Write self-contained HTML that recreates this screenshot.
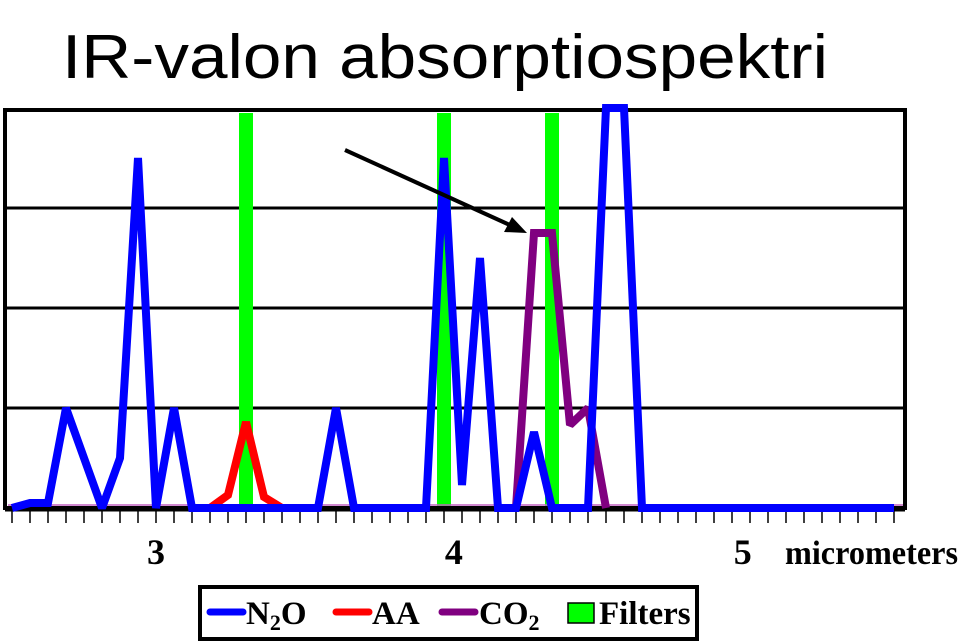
<!DOCTYPE html>
<html><head><meta charset="utf-8"><style>
html,body{margin:0;padding:0;background:#fff;}
svg{display:block;}
</style></head><body>
<svg id="chart" width="960" height="642" viewBox="0 0 960 642">
<text x="62" y="78" font-family="Liberation Sans, sans-serif" font-size="62" textLength="766" lengthAdjust="spacingAndGlyphs" fill="#000">IR-valon absorptiospektri</text>
<g id="plot"></g>
<g id="legend">
  <rect x="200" y="587" width="497" height="52" fill="#fff" stroke="#000" stroke-width="4"/>
  <line x1="210" y1="612" x2="243" y2="612" stroke="#0000ff" stroke-width="7" stroke-linecap="round"/>
  <text x="246" y="624" font-family="Liberation Serif, serif" font-weight="bold" font-size="33">N<tspan font-size="22" dy="6">2</tspan><tspan dy="-6">O</tspan></text>
  <line x1="336" y1="612" x2="369" y2="612" stroke="#ff0000" stroke-width="7" stroke-linecap="round"/>
  <text x="372" y="624" font-family="Liberation Serif, serif" font-weight="bold" font-size="33">AA</text>
  <line x1="442" y1="612" x2="475" y2="612" stroke="#800080" stroke-width="7" stroke-linecap="round"/>
  <text x="479" y="624" font-family="Liberation Serif, serif" font-weight="bold" font-size="33">CO<tspan font-size="22" dy="6">2</tspan></text>
  <rect x="568" y="603" width="26" height="20" fill="#00ff00" stroke="#000" stroke-width="1.5"/>
  <text x="599" y="624" font-family="Liberation Serif, serif" font-weight="bold" font-size="33">Filters</text>
</g>
</svg>
<script>
const n2o = [0,0.05,0.05,1,0.5,0,0.5,3.5,0,1,0,0,0,0,0,0,0,0,1,0,0,0,0,0,3.5,0.23,2.5,0,0,0.76,0,0,0,4,4,0,0,0,0,0,0,0,0,0,0,0,0,0,0,0];
const aa = [0,0,0,0,0,0,0,0,0,0,0,0,0.13,0.86,0.11,0,0,0,0,0,0,0,0,0,0,0,0,0,0,0,0,0,0,0,0,0,0,0,0,0,0,0,0,0,0,0,0,0,0,0];
const co2 = [0,0,0,0,0,0,0,0,0,0,0,0,0,0,0,0,0,0,0,0,0,0,0,0,0,0,0,0,0,2.75,2.75,0.83,1.0,0,0,0,0,0,0,0,0,0,0,0,0,0,0,0,0,0];
const filters = [13,24,30];
const xTickLabels = ["3","4","5"];
const xTickLabelPos = [8.0,24.55,40.6];
const yGrid = [1,2,3];

const NS = "http://www.w3.org/2000/svg";
const plot = document.getElementById('plot');
const X = i => 12 + i * 18;
const Y = v => 508 - v * 100;
function mk(tag, attrs){const e=document.createElementNS(NS,tag);for(const k in attrs)e.setAttribute(k,attrs[k]);plot.appendChild(e);return e;}

yGrid.forEach(v=>{
  const g=mk('line',{x1:5,x2:905,y1:Y(v),y2:Y(v),stroke:'#000','stroke-width':3});
  
  
});
filters.forEach(i=>{
  const r=mk('rect',{x:X(i)-7,y:113,width:14,height:393,fill:'#00ff00'});
  
  
});
const fr=mk('rect',{x:5,y:110,width:900,height:398,fill:'none',stroke:'#000','stroke-width':4});


const base=mk('line',{x1:8,x2:903,y1:505,y2:505,stroke:'#c060c0','stroke-width':1.5});


const ax=mk('line',{x1:5,x2:905,y1:509,y2:509,stroke:'#000','stroke-width':5});


for(let i=0;i<n2o.length;i++){
  const t=mk('line',{x1:X(i),x2:X(i),y1:510,y2:523,stroke:'#000','stroke-width':1.5});
  
  
}
xTickLabels.forEach((l,k)=>{
  const t=mk('text',{x:X(xTickLabelPos[k]),y:564,'text-anchor':'middle','font-family':'Liberation Serif, serif','font-weight':'bold','font-size':36});
  t.textContent=l;
  
  
});
const ut=mk('text',{x:785,y:564,'font-family':'Liberation Serif, serif','font-weight':'bold','font-size':34,textLength:173,lengthAdjust:'spacingAndGlyphs'});
ut.textContent='micrometers';



function series(arr,color,name,skipZero){
  let d='';
  let pen=false;
  for(let i=0;i<arr.length;i++){
    const active = !skipZero || arr[i]!==0 || (i>0&&arr[i-1]!==0) || (i<arr.length-1&&arr[i+1]!==0);
    if(active){d+=(pen?'L':'M')+X(i)+','+Y(arr[i])+' ';pen=true;} else pen=false;
  }
  const p=mk('path',{d:d,fill:'none',stroke:color,'stroke-width':8,'stroke-linejoin':'miter','stroke-miterlimit':2});
  
  
}
series(aa,'#ff0000','series-aa',true);
series(co2,'#800080','series-co2',true);
series(n2o,'#0000ff','series-n2o',false);
const ar=mk('line',{x1:345,y1:150,x2:512,y2:226,stroke:'#000','stroke-width':4});


const ah=mk('polygon',{points:'527,233 504,232 512,217',fill:'#000'});


</script>
</body></html>
